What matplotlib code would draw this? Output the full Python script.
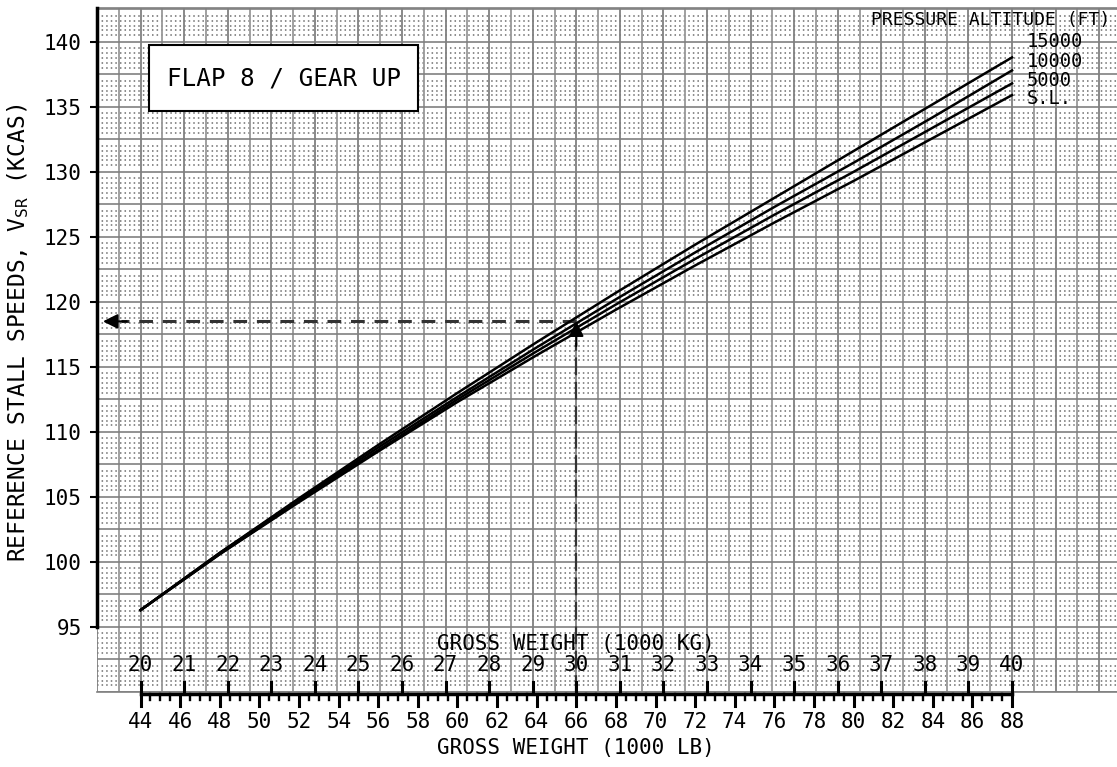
import matplotlib

matplotlib.use("Agg")
import matplotlib.pyplot as plt
import numpy as np
from matplotlib.patches import Rectangle

plt.rcParams["font.family"] = ["DejaVu Sans Mono", "DejaVu Sans"]

# gross weight (1000 lb) and reference stall speed (KCAS) per pressure altitude
weight_lb = [44, 48, 52, 56, 60, 64, 68, 72, 76, 80, 84, 88]
vsr_15000 = [96.3, 100.7, 104.9, 109.0, 113.0, 116.9, 120.7, 124.4, 128.0, 131.6, 135.2, 138.8]
vsr_10000 = [96.3, 100.7, 104.8, 108.8, 112.7, 116.5, 120.2, 123.8, 127.3, 130.7, 134.2, 137.8]
vsr_5000 = [96.3, 100.6, 104.7, 108.6, 112.5, 116.2, 119.8, 123.3, 126.7, 130.0, 133.4, 136.8]
vsr_sl = [96.3, 100.6, 104.6, 108.5, 112.3, 115.9, 119.4, 122.8, 126.1, 129.3, 132.6, 135.9]

altitude_labels = ["15000", "10000", "5000", "S.L."]
altitude_label_y = [140.0, 138.45, 137.05, 135.65]

kg_ticks = list(range(20, 41))
lb_ticks = list(range(44, 89, 2))
speed_ticks = list(range(95, 141, 5))

example_weight = 66
example_speed = 118.5

LB_PER_KG = 2.2


def draw_grid(ax):
    for kg in np.arange(19.0, 42.6, 0.5):
        dark = kg % 1 == 0
        ax.axvline(kg * LB_PER_KG, color="#808080" if dark else "#999999", lw=1.3, zorder=1)
    for base in np.arange(90.0, 142.6, 2.5):
        ax.axhline(base, color="#808080", lw=1.2, zorder=1)
        for frac in (0.2, 0.35, 0.5, 0.65, 0.8):
            ax.axhline(base + 2.5 * frac, color="#6e6e6e", lw=1.1,
                       ls=(0, (1, 2.0)), zorder=0.5)


def draw_weight_scales(ax):
    y_line = 89.86
    ax.plot([44, 88], [y_line, y_line], color="black", lw=2.5, clip_on=False, zorder=6)
    for lb in np.arange(44, 88.01, 0.5):
        major = lb in lb_ticks
        low = 88.95 if major else 89.35
        ax.plot([lb, lb], [y_line, low], color="black", lw=2.2 if major else 1.7,
                clip_on=False, zorder=6)
    for lb in lb_ticks:
        ax.text(lb, 87.67, str(lb), ha="center", va="center", fontsize=15)
    ax.text(66, 85.67, "GROSS WEIGHT (1000 LB)", ha="center", va="center", fontsize=15)

    for kg in kg_ticks:
        x = kg * LB_PER_KG
        ax.plot([x, x], [y_line, 90.75], color="black", lw=2.2, clip_on=False, zorder=6)
        ax.text(x, 92.05, str(kg), ha="center", va="center", fontsize=15, zorder=6)
    ax.text(66, 93.67, "GROSS WEIGHT (1000 KG)", ha="center", va="center", fontsize=15, zorder=6)


def main():
    fig = plt.figure(figsize=(11.17, 7.67), dpi=100)
    ax = fig.add_axes([97 / 1117, 1 - 692 / 767, 1020 / 1117, 684 / 767])
    ax.set_xlim(41.8, 93.3)
    ax.set_ylim(90.0, 142.6)

    draw_grid(ax)
    draw_weight_scales(ax)

    for series in (vsr_15000, vsr_10000, vsr_5000, vsr_sl):
        ax.plot(weight_lb, series, color="black", lw=1.8, zorder=5)

    # worked example: 66,000 lb -> 118.5 KCAS
    ax.plot([example_weight, 43.0], [example_speed, example_speed], color="#333333",
            lw=2.2, ls=(0, (4.5, 3.2)), zorder=4)
    ax.annotate("", xy=(42.1, example_speed), xytext=(43.3, example_speed),
                arrowprops=dict(arrowstyle="-|>", color="black", lw=1.5,
                                mutation_scale=22, shrinkA=0, shrinkB=0), zorder=6)
    ax.plot([example_weight, example_weight], [89.9, 116.8], color="#333333",
            lw=1.6, ls=(0, (8, 3)), zorder=4)
    ax.annotate("", xy=(example_weight, example_speed), xytext=(example_weight, 116.6),
                arrowprops=dict(arrowstyle="-|>", color="black", lw=1.5,
                                mutation_scale=22, shrinkA=0, shrinkB=0), zorder=6)

    box = Rectangle((44.45, 134.67), 13.54, 5.08, facecolor="white",
                    edgecolor="black", lw=1.5, zorder=7)
    ax.add_patch(box)
    ax.text(51.22, 137.2, "FLAP 8 / GEAR UP", ha="center", va="center",
            fontsize=17.5, zorder=8)

    ax.text(80.9, 141.67, "PRESSURE ALTITUDE (FT)", ha="left", va="center",
            fontsize=13, zorder=8)
    for label, y in zip(altitude_labels, altitude_label_y):
        ax.text(88.76, y, label, ha="left", va="center", fontsize=13.5, zorder=8)

    ax.set_xticks([])
    ax.set_yticks(speed_ticks)
    ax.tick_params(axis="y", direction="out", length=5, width=1.5, labelsize=15, pad=6)

    ax.spines["right"].set_visible(False)
    for side in ("top", "bottom"):
        ax.spines[side].set_color("#808080")
        ax.spines[side].set_linewidth(1.2)
    ax.spines["left"].set_bounds(95, 142.6)
    ax.spines["left"].set_linewidth(2.5)
    ax.spines["left"].set_zorder(6)

    fig.text(18 / 1117, 1 - 333 / 767, r"REFERENCE STALL SPEEDS, V$_{\mathregular{SR}}$ (KCAS)",
             rotation=90, ha="center", va="center", fontsize=16.5)

    fig.savefig("out.png", dpi=100, facecolor="white")
    plt.close(fig)


if __name__ == "__main__":
    main()
